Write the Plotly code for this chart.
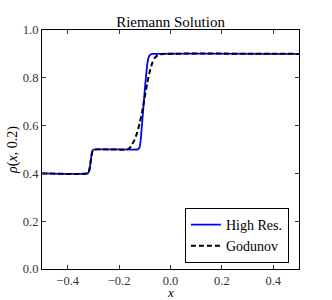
import plotly.graph_objects as go

# High resolution solution rho(x, 0.2)
hr_x = [-0.5, -0.322, -0.318, -0.314, -0.310, -0.306, -0.303, -0.298, -0.13, -0.125,
        -0.12, -0.116, -0.112, -0.106, -0.1, -0.095, -0.091, -0.088, -0.085, -0.08,
        -0.074, -0.068, 0.5]
hr_y = [0.4, 0.4, 0.405, 0.425, 0.455, 0.485, 0.497, 0.5, 0.5, 0.502,
        0.51, 0.54, 0.59, 0.67, 0.75, 0.81, 0.85, 0.873, 0.886, 0.895,
        0.899, 0.9, 0.9]

# Godunov solution
gd_x = [-0.5, -0.322, -0.318, -0.314, -0.310, -0.306, -0.302, -0.296, -0.17, -0.16,
        -0.15, -0.14, -0.13, -0.12, -0.11, -0.1, -0.09, -0.08, -0.07, -0.06,
        -0.05, -0.04, -0.03, 0.5]
gd_y = [0.4, 0.4, 0.405, 0.425, 0.455, 0.482, 0.496, 0.5, 0.5, 0.505,
        0.52, 0.54, 0.57, 0.61, 0.66, 0.72, 0.78, 0.83, 0.865, 0.885,
        0.894, 0.898, 0.9, 0.9]

x_ticks = [-0.4, -0.2, 0.0, 0.2, 0.4]
y_ticks = [0.0, 0.2, 0.4, 0.6, 0.8, 1.0]

FONT = "Liberation Serif"

fig = go.Figure()

fig.add_trace(go.Scatter(
    x=hr_x, y=hr_y, name="High Res.", mode="lines",
    line=dict(color="#0000ff", width=1.8, shape="spline", smoothing=0.6),
))

fig.add_trace(go.Scatter(
    x=gd_x, y=gd_y, name="Godunov", mode="lines",
    line=dict(color="black", width=2, dash="5px,3px", shape="spline", smoothing=0.6),
))

axis_common = dict(
    showgrid=False, zeroline=False, automargin=False,
    showline=True, linecolor="black", linewidth=1.2, mirror="ticks",
    ticks="inside", ticklen=4, tickcolor="#333", tickwidth=1,
    tickfont=dict(family=FONT, size=12.5, color="#333"),
)

fig.update_layout(
    width=332, height=300,
    paper_bgcolor="white", plot_bgcolor="white",
    margin=dict(l=42, r=33, t=30, b=31, autoexpand=False),
    font=dict(family=FONT, color="black"),
    title=dict(text="Riemann Solution", x=0.5, xref="paper", xanchor="center",
               y=1, yref="paper", yanchor="bottom", pad=dict(b=3), automargin=False,
               font=dict(family=FONT, size=15, color="black")),
    xaxis=dict(range=[-0.5, 0.5], tickvals=x_ticks, tickformat=".1f",
               **axis_common),
    yaxis=dict(range=[0, 1], tickvals=y_ticks, tickformat=".1f",
               title=dict(text="<i>ρ</i>(<i>x</i>, 0.2)", standoff=1, font=dict(family=FONT, size=14)),
               **axis_common),
    legend=dict(x=0.96, y=0.026, xanchor="right", yanchor="bottom",
                bordercolor="black", borderwidth=1.2, bgcolor="white",
                font=dict(family=FONT, size=14), itemwidth=30, tracegroupgap=0),
    showlegend=True,
    annotations=[dict(text="<i>x</i>", xref="paper", yref="paper", x=0.5, y=-0.098,
                      xanchor="center", yanchor="middle", showarrow=False, borderpad=0,
                      font=dict(family=FONT, size=13, color="black"))],
)

# the page's default body margin would shift the figure by 8px
fig.write_html("out.html", config={"displayModeBar": False},
               post_script="document.body.style.margin='0';")
